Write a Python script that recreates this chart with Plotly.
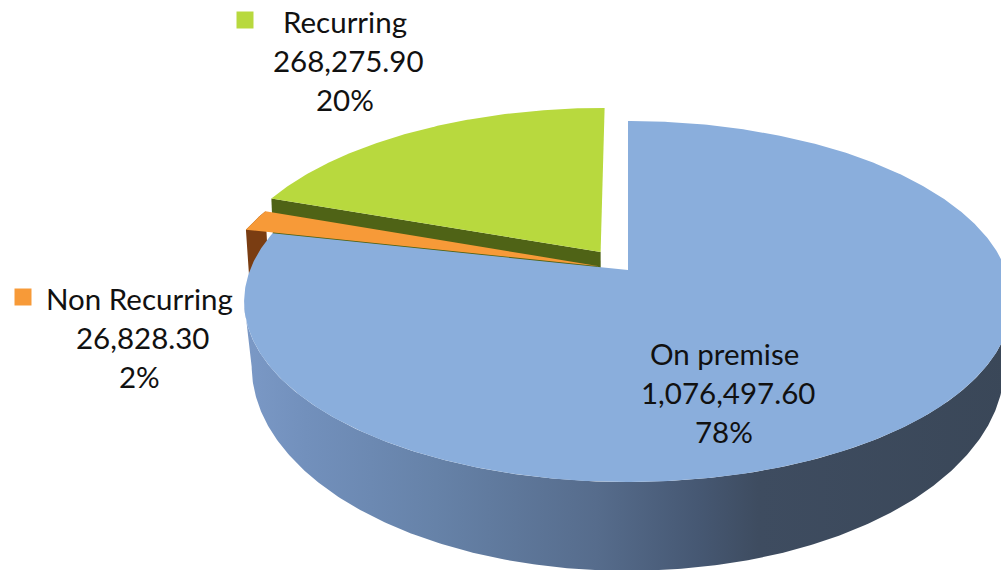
import numpy as np
import plotly.graph_objects as go

categories = ["On premise", "Non Recurring", "Recurring"]
values = [1076497.60, 26828.30, 268275.90]
percent_labels = ["78%", "2%", "20%"]
top_colors = ["#8AAEDC", "#F79A38", "#B8D93E"]
wall_colors = ["#5F7BA3", "#7A3D12", "#4F6316"]
explode = [0.0, 0.08, 0.128]

# perspective parameters of the pie's top and bottom planes (image units)
CX = 628
TOP = dict(W=378.0, a=-127.9, b=270.0, c=0.1745)
BASE = dict(W=372.0, a=-149.7, b=335.0, c=0.151)


def project(u, v, p):
    w = 1 + p["c"] * v
    return CX + p["W"] * u / w, (p["a"] * v + p["b"]) / w


fractions = np.array(values) / sum(values)
edges = np.concatenate([[0], np.cumsum(fractions)]) * 2 * np.pi


def sector(i, plane, n=160):
    t0, t1 = edges[i], edges[i + 1]
    mid = (t0 + t1) / 2
    du, dv = explode[i] * np.sin(mid), explode[i] * np.cos(mid)
    t = np.linspace(t0, t1, n)
    rim_x, rim_y = project(np.sin(t) + du, np.cos(t) + dv, plane)
    apex_x, apex_y = project(np.array([du]), np.array([dv]), plane)
    return rim_x, rim_y, apex_x, apex_y


def poly(x, y, color, **kw):
    return go.Scatter(x=x, y=y, mode="lines", fill="toself", fillcolor=color,
                      line=dict(width=0), hoverinfo="skip", showlegend=False, **kw)


fig = go.Figure()

# Recurring: cut wall and top
rx, ry, ax, ay = sector(2, TOP)
bx, by, bax, bay = sector(2, BASE)
fig.add_trace(poly([rx[0], ax[0], bax[0], bx[0]], [ry[0], ay[0], bay[0], by[0]], wall_colors[2]))
fig.add_trace(poly(np.r_[ax, rx], np.r_[ay, ry], top_colors[2]))

# Non Recurring: outer wall and top
rx, ry, ax, ay = sector(1, TOP)
bx, by, bax, bay = sector(1, BASE)
fig.add_trace(poly(np.r_[rx, bx[::-1]], np.r_[ry, by[::-1]], wall_colors[1]))
fig.add_trace(poly(np.r_[ax, rx], np.r_[ay, ry], top_colors[1]))

# On premise: curved wall with horizontal shading, then top
fine = np.linspace(0.0, 2 * np.pi, 721)
ex, ey = project(np.sin(fine), np.cos(fine), TOP)
fx, fy = project(np.sin(fine), np.cos(fine), BASE)
# silhouette: lower half of the top ellipse joined to the lower half of the base ellipse
i_r, i_l = np.argmax(ex), np.argmin(ex)
j_r, j_l = np.argmax(fx), np.argmin(fx)
wall_x = np.r_[ex[i_r:i_l + 1], fx[j_l:j_r - 1:-1]]
wall_y = np.r_[ey[i_r:i_l + 1], fy[j_l:j_r - 1:-1]]
fig.add_trace(go.Scatter(
    x=wall_x, y=wall_y, mode="lines", fill="toself", line=dict(width=0),
    hoverinfo="skip", showlegend=False,
    fillgradient=dict(type="horizontal", colorscale=[
        [0.0, "#7B99C6"], [0.08, "#7290BC"], [0.25, "#6682A8"],
        [0.46, "#566C8C"], [0.59, "#465873"], [0.67, "#3E4C60"], [1.0, "#3A4758"]]),
))
rx, ry, ax, ay = sector(0, TOP, n=600)
fig.add_trace(poly(np.r_[ax, rx], np.r_[ay, ry], top_colors[0]))

# data labels
label_pos = [(727.5, 353), (142.5, 298), (348.5, 21)]
key_pos = [(612, 352), (23, 297), (245, 20)]
line_shift = [-3.5, 0, -3.5]
for name, val, pct, (lx, ly), color, (kx, ky) in zip(
        categories, values, percent_labels, label_pos, top_colors, key_pos):
    fig.add_trace(go.Scatter(x=[kx], y=[ky], mode="markers", hoverinfo="skip", showlegend=False,
                             marker=dict(symbol="square", size=17, color=color)))
    for k, txt in enumerate([name, f"{val:,.2f}", pct]):
        fig.add_annotation(x=lx + line_shift[k], y=ly + 39 * k, text=txt, showarrow=False,
                           xanchor="center", yanchor="middle",
                           font=dict(family="Lato", size=29.5, color="#111111"))

fig.update_layout(
    width=1001, height=570, margin=dict(l=0, r=0, t=0, b=0),
    paper_bgcolor="white", plot_bgcolor="white", showlegend=False,
    xaxis=dict(range=[0, 1001], visible=False, fixedrange=True),
    yaxis=dict(range=[570, 0], visible=False, fixedrange=True),
)
fig.write_html("out.html", config={"displayModeBar": False},
               post_script="document.body.style.margin='0';document.body.style.overflow='hidden';")
